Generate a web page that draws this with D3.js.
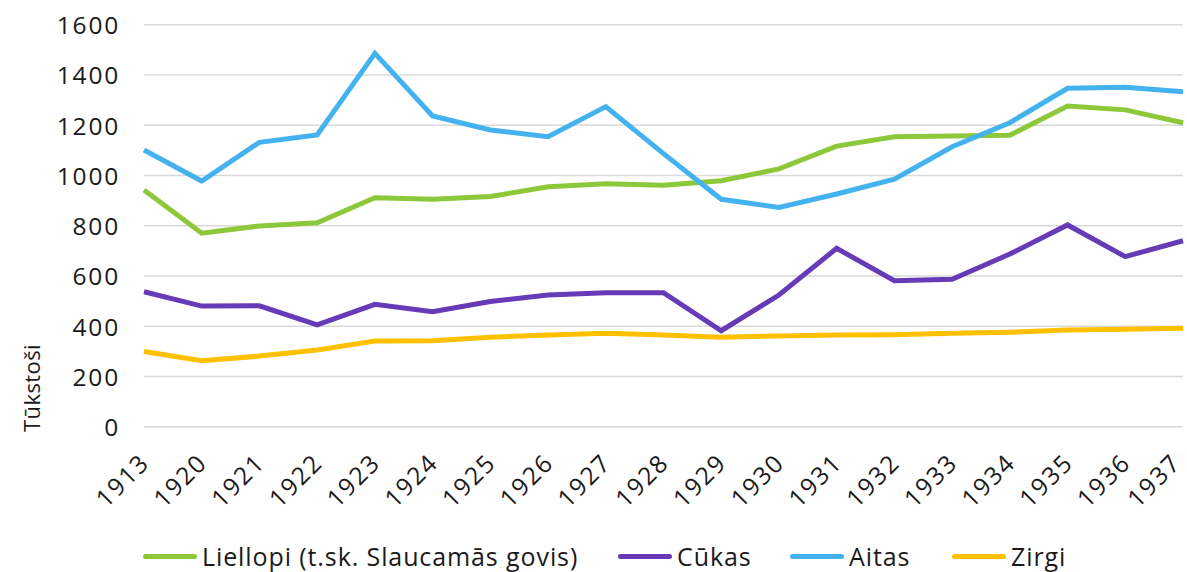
<!DOCTYPE html>
<html>
<head>
<meta charset="utf-8">
<script src="https://cdn.jsdelivr.net/npm/d3@7"></script>
<style>
  body { margin: 0; background: #fff; }
  svg text { font-family: "Open Sans", "DejaVu Sans", sans-serif; fill: #1a1a1a; }
</style>
</head>
<body>
<svg id="chart" width="1187" height="572"></svg>
<script>
// Data (tūkstoši)
const years = ['1913', '1920', '1921', '1922', '1923', '1924', '1925', '1926', '1927', '1928',
    '1929', '1930', '1931', '1932', '1933', '1934', '1935', '1936', '1937'];

const liellopi = [942, 770, 799, 812, 911, 905, 916, 955, 967, 961, 979, 1026, 1117, 1154, 1157, 1160, 1276, 1261, 1210];
const cukas = [537, 480, 481, 405, 487, 458, 498, 524, 533, 533, 382, 524, 710, 581, 587, 687, 803, 677, 740];
const aitas = [1101, 978, 1132, 1161, 1486, 1237, 1181, 1154, 1274, 1087, 905, 873, 926, 985, 1114, 1210, 1347, 1351, 1333];
const zirgi = [299, 263, 281, 305, 341, 342, 356, 365, 372, 365, 356, 361, 365, 366, 372, 376, 385, 388, 392];

const yTicks = [0, 200, 400, 600, 800, 1000, 1200, 1400, 1600];

const series = [
    { name: 'Liellopi (t.sk. Slaucamās govis)', values: liellopi, color: '#8cc83a' },
    { name: 'Cūkas', values: cukas, color: '#673ab7' },
    { name: 'Aitas', values: aitas, color: '#44b2ee' },
    { name: 'Zirgi', values: zirgi, color: '#ffc000' }
];

// Layout
const svg = d3.select('#chart');
const plotLeft = 144, plotRight = 1183, plotTop = 24.7, plotBottom = 426.7;

const x = d3.scalePoint().domain(years).range([plotLeft, plotRight]);
const y = d3.scaleLinear().domain([0, 1600]).range([plotBottom, plotTop]);

// Gridlines
svg.append('g')
    .selectAll('line')
    .data(yTicks)
    .join('line')
    .attr('x1', plotLeft)
    .attr('x2', plotRight)
    .attr('y1', d => y(d))
    .attr('y2', d => y(d))
    .attr('stroke', '#d9d9d9')
    .attr('stroke-width', 1.5);

// Y axis labels
const yAxis = svg.append('g')
    .attr('transform', `translate(${plotLeft - 24},0)`)
    .call(d3.axisLeft(y).tickValues(yTicks).tickFormat(d3.format('d')).tickSize(0).tickPadding(0));
yAxis.select('.domain').remove();
yAxis.selectAll('text')
    .style('font-size', '24.5px')
    .style('letter-spacing', '1.8px')
    .attr('dy', '0.36em')
    .attr('fill', '#1a1a1a');

// X axis labels
const xAxis = svg.append('g')
    .attr('transform', `translate(0,${plotBottom})`)
    .call(d3.axisBottom(x).tickSize(0).tickPadding(0));
xAxis.select('.domain').remove();
xAxis.selectAll('text')
    .style('font-size', '24.5px')
    .style('letter-spacing', '1.8px')
    .attr('text-anchor', 'end')
    .attr('dy', 0)
    .attr('transform', (d, i) => `translate(${i === years.length - 1 ? -1 : 6.5},37.5) rotate(-45)`)
    .attr('fill', '#1a1a1a');

// Y axis title
svg.append('text')
    .attr('transform', 'translate(40,388) rotate(-90)')
    .attr('text-anchor', 'middle')
    .style('font-size', '22px')
    .style('letter-spacing', '0.4px')
    .text('Tūkstoši');

// Lines
const line = d3.line()
    .x((d, i) => x(years[i]))
    .y(d => y(d));

svg.append('g')
    .selectAll('path')
    .data(series)
    .join('path')
    .attr('d', d => line(d.values))
    .attr('fill', 'none')
    .attr('stroke', d => d.color)
    .attr('stroke-width', 5);

// Legend
const legendX = [143, 618, 790, 952];
const legend = svg.append('g')
    .selectAll('g')
    .data(series)
    .join('g')
    .attr('transform', (d, i) => `translate(${legendX[i]},556.5)`);

legend.append('line')
    .attr('x1', 2.5)
    .attr('x2', 51.5)
    .attr('stroke', d => d.color)
    .attr('stroke-width', 5)
    .attr('stroke-linecap', 'round');

legend.append('text')
    .attr('x', 59)
    .attr('y', 9.5)
    .style('font-size', '25px')
    .style('letter-spacing', '0.9px')
    .text(d => d.name);
</script>
</body>
</html>
